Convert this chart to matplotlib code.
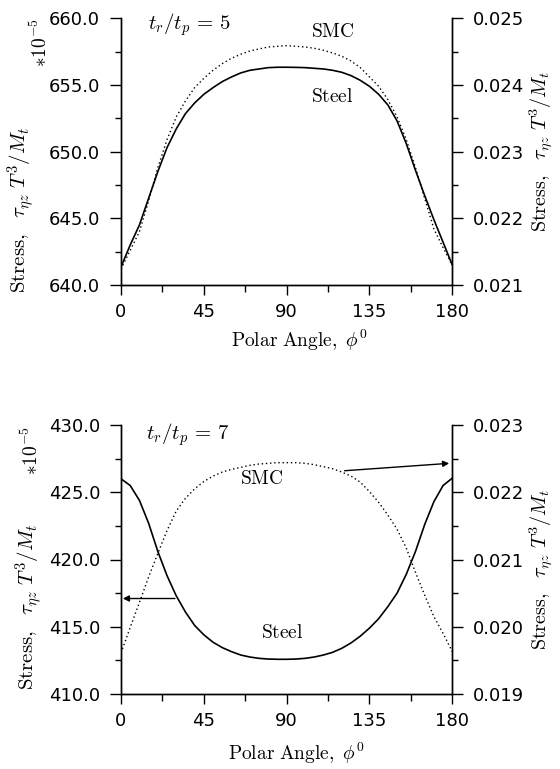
import matplotlib
matplotlib.use("Agg")
import matplotlib.pyplot as plt
from matplotlib.ticker import MultipleLocator, FormatStrFormatter

plt.rcParams['mathtext.fontset'] = 'cm'
plt.rcParams['font.family'] = ['DejaVu Sans']

# ---------------- data ----------------
angles = list(range(0, 181, 5))

# t_r/t_p = 5  (steel: left axis, SMC: right axis)
steel_5 = [641.35, 643.0, 644.5, 646.5, 648.5, 650.3, 651.7, 652.85, 653.65, 654.3,
           654.8, 655.25, 655.6, 655.9, 656.1, 656.2, 656.3, 656.33, 656.33,
           656.32, 656.3, 656.25, 656.2, 656.1, 655.95, 655.7, 655.35, 654.9,
           654.3, 653.5, 652.3, 650.6, 648.6, 646.7, 644.9, 643.2, 641.5]
smc_5 = [0.02124, 0.02152, 0.02180, 0.02226, 0.02276, 0.02318, 0.02352, 0.02376,
         0.02396, 0.02410, 0.02422, 0.02432, 0.02440, 0.02446, 0.02451, 0.02454,
         0.02457, 0.02458, 0.02459, 0.02458, 0.02457, 0.02455, 0.02452, 0.02448,
         0.02443, 0.02436, 0.02426, 0.02412, 0.02398, 0.02378, 0.02352, 0.02318,
         0.02276, 0.02230, 0.02184, 0.02156, 0.02130]

# t_r/t_p = 7
steel_7 = [426.0, 425.5, 424.4, 422.7, 420.6, 418.8, 417.3, 416.1, 415.1, 414.4,
           413.85, 413.45, 413.15, 412.9, 412.75, 412.65, 412.6, 412.58, 412.58,
           412.6, 412.65, 412.75, 412.9, 413.1, 413.4, 413.8, 414.3, 414.9,
           415.6, 416.5, 417.5, 418.9, 420.6, 422.6, 424.3, 425.5, 426.05]
smc_7 = [0.01961, 0.01999, 0.02036, 0.02074, 0.02109, 0.02143, 0.02172, 0.02191,
         0.02205, 0.02216, 0.02224, 0.02230, 0.02234, 0.02237, 0.02240, 0.02242,
         0.02243, 0.02244, 0.02244, 0.02244, 0.02243, 0.02241, 0.02238, 0.02235,
         0.02230, 0.02224, 0.02215, 0.02201, 0.02185, 0.02166, 0.02145, 0.02117,
         0.02081, 0.02047, 0.02015, 0.01990, 0.01963]

x_ticks = [0, 45, 90, 135, 180]
W, H = 560, 769

fig = plt.figure(figsize=(W / 100, H / 100), dpi=100)


def setup(ax, ylim, ymaj, ymin, rlim, rmaj, rmin, lfmt, rfmt):
    tw = ax.twinx()
    ax.set_xlim(0, 180)
    ax.set_ylim(*ylim)
    tw.set_ylim(*rlim)
    for a in (ax, tw):
        a.spines['top'].set_visible(False)
        for s in a.spines.values():
            s.set_linewidth(1.0)
    ax.xaxis.set_major_locator(MultipleLocator(45))
    ax.xaxis.set_minor_locator(MultipleLocator(22.5))
    ax.yaxis.set_major_locator(MultipleLocator(ymaj))
    ax.yaxis.set_minor_locator(MultipleLocator(ymin))
    ax.yaxis.set_major_formatter(FormatStrFormatter(lfmt))
    tw.yaxis.set_major_locator(MultipleLocator(rmaj))
    tw.yaxis.set_minor_locator(MultipleLocator(rmin))
    tw.yaxis.set_major_formatter(FormatStrFormatter(rfmt))
    ax.tick_params(axis='x', which='major', direction='out', length=7, width=1.0,
                   labelsize=13, pad=6)
    ax.tick_params(axis='x', which='minor', direction='out', length=5, width=1.0)
    ax.tick_params(axis='y', which='major', direction='out', length=8, width=1.0,
                   labelsize=13, pad=7)
    ax.tick_params(axis='y', which='minor', direction='out', length=4.5, width=1.0)
    tw.tick_params(axis='y', which='major', direction='out', length=8, width=1.0,
                   labelsize=13, pad=6.5)
    tw.tick_params(axis='y', which='minor', direction='out', length=4.5, width=1.0)
    ax.set_xticks(x_ticks)
    ax.set_xticklabels([str(v) for v in x_ticks])
    return tw


def px(x, y):
    return x / W, 1 - y / H


label_txt = r"$\mathrm{Stress,}\ \ \tau_{\eta z}\,\,T^3/M_t$"
xlabel_txt = r"$\mathrm{Polar\ Angle,}\ \phi^0$"
mult_txt = r"$*10^{-5}$"

# ---------------- top panel ----------------
ax1 = fig.add_axes([121 / W, 1 - 285 / H, 331.3 / W, 266.7 / H])
tw1 = setup(ax1, (640, 660), 5, 2.5, (0.021, 0.025), 0.001, 0.0005, '%.1f', '%.3f')
ax1.plot(angles, steel_5, color='black', lw=1.2, solid_capstyle='round')
tw1.plot(angles, smc_5, color='black', lw=1.0, linestyle=(0, (1, 2)))
ax1.text(14.7, 659.5, r"$t_r/t_p\,=\,5$", fontsize=15, va='center', ha='left')
ax1.text(115, 659.0, r"$\mathrm{SMC}$", fontsize=14, va='center', ha='center')
ax1.text(114.6, 654.1, r"$\mathrm{Steel}$", fontsize=14, va='center', ha='center')
fig.text(*px(300, 340), xlabel_txt, fontsize=14, ha='center', va='center')
fig.text(*px(21, 293), label_txt, fontsize=15, rotation=90, rotation_mode='anchor',
         ha='left', va='center')
fig.text(*px(40, 67), mult_txt, fontsize=14, rotation=90, rotation_mode='anchor',
         ha='left', va='center')
fig.text(*px(541, 232), label_txt, fontsize=14.5, rotation=90, rotation_mode='anchor',
         ha='left', va='center')

# ---------------- bottom panel ----------------
ax2 = fig.add_axes([121 / W, 1 - 694 / H, 331.3 / W, 269 / H])
tw2 = setup(ax2, (410, 430), 5, 2.5, (0.019, 0.023), 0.001, 0.0005, '%.1f', '%.3f')
ax2.plot(angles, steel_7, color='black', lw=1.2, solid_capstyle='round')
tw2.plot(angles, smc_7, color='black', lw=1.0, linestyle=(0, (1, 2)))
ax2.text(13.6, 429.26, r"$t_r/t_p\,=\,7$", fontsize=15, va='center', ha='left')
ax2.text(76.4, 426.0, r"$\mathrm{SMC}$", fontsize=14, va='center', ha='center')
ax2.text(87.4, 414.6, r"$\mathrm{Steel}$", fontsize=14, va='center', ha='center')
ax2.annotate('', xy=(1, 417.1), xytext=(29.3, 417.1),
             arrowprops=dict(arrowstyle='-|>', color='black', lw=1.0,
                             mutation_scale=9, shrinkA=0, shrinkB=0))
tw2.annotate('', xy=(178.3, 0.02243), xytext=(121.5, 0.02232),
             arrowprops=dict(arrowstyle='-|>', color='black', lw=1.0,
                             mutation_scale=9, shrinkA=0, shrinkB=0))
fig.text(*px(297, 753), xlabel_txt, fontsize=14, ha='center', va='center')
fig.text(*px(29, 690), label_txt, fontsize=15, rotation=90, rotation_mode='anchor',
         ha='left', va='center')
fig.text(*px(31, 475), mult_txt, fontsize=14, rotation=90, rotation_mode='anchor',
         ha='left', va='center')
fig.text(*px(541, 650), label_txt, fontsize=14.5, rotation=90, rotation_mode='anchor',
         ha='left', va='center')

fig.savefig('out.png', dpi=100)
